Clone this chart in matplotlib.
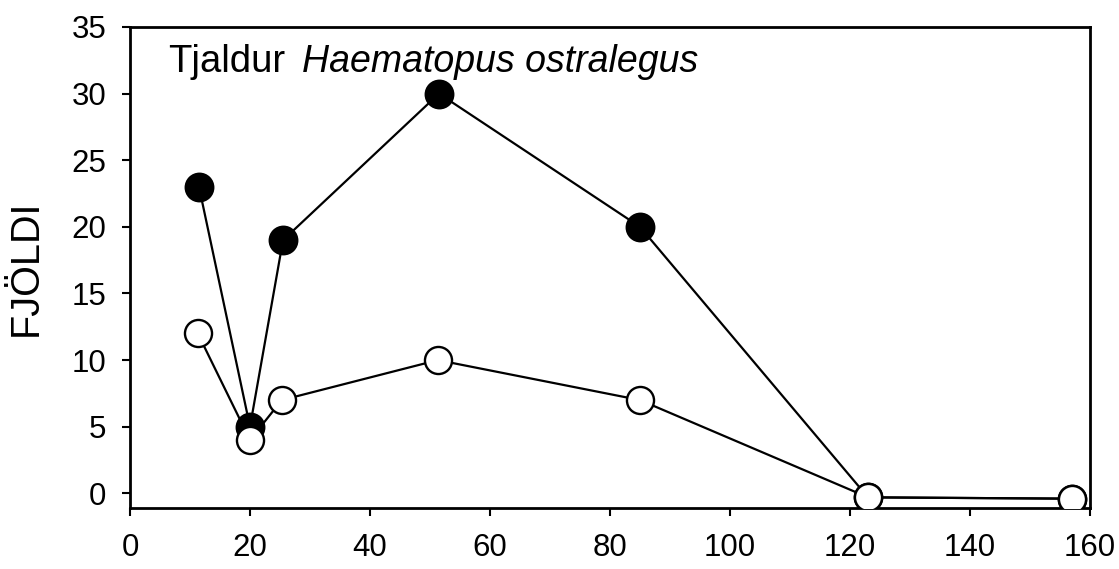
import matplotlib
matplotlib.use("Agg")
import matplotlib.pyplot as plt

# Data
filled_x = [11.5, 20, 25.5, 51.5, 85, 123, 157]
filled_y = [23, 5, 19, 30, 20, -0.3, -0.4]
open_x = [11.3, 20, 25.3, 51.3, 85, 123, 157]
open_y = [12, 4, 7, 10, 7, -0.3, -0.4]
xticks = [0, 20, 40, 60, 80, 100, 120, 140, 160]
yticks = [0, 5, 10, 15, 20, 25, 30, 35]

plt.rcParams['font.family'] = ['Liberation Sans', 'DejaVu Sans']

fig = plt.figure(figsize=(11.19, 5.69), dpi=100)
ax = fig.add_axes([130/1119, 1-508/569, (1090-130)/1119, (508-27)/569])

ax.plot(filled_x, filled_y, color='black', lw=1.6, marker='o', ms=20,
        mfc='black', mec='black', mew=1.5, zorder=3)
ax.plot(open_x, open_y, color='black', lw=1.6, marker='o', ms=19.5,
        mfc='white', mec='black', mew=1.7, zorder=4)

ax.set_xlim(0, 160)
ax.set_ylim(-1.1, 35)
ax.set_xticks(xticks)
ax.set_yticks(yticks)
ax.tick_params(axis='both', direction='out', length=6, width=1.5,
               labelsize=22.5)
ax.tick_params(axis='x', pad=12)
ax.tick_params(axis='y', pad=11)
for s in ax.spines.values():
    s.set_linewidth(2)

ax.set_ylabel('FJÖLDI', fontsize=28.5, labelpad=19)

ax.text(168/1119, 1-72/569, 'Tjaldur', transform=fig.transFigure,
        fontsize=27.5, ha='left', va='baseline')
ax.text(302/1119, 1-72/569, 'Haematopus ostralegus', transform=fig.transFigure,
        fontsize=27, style='italic', ha='left', va='baseline')

fig.savefig('out.png', dpi=100)
